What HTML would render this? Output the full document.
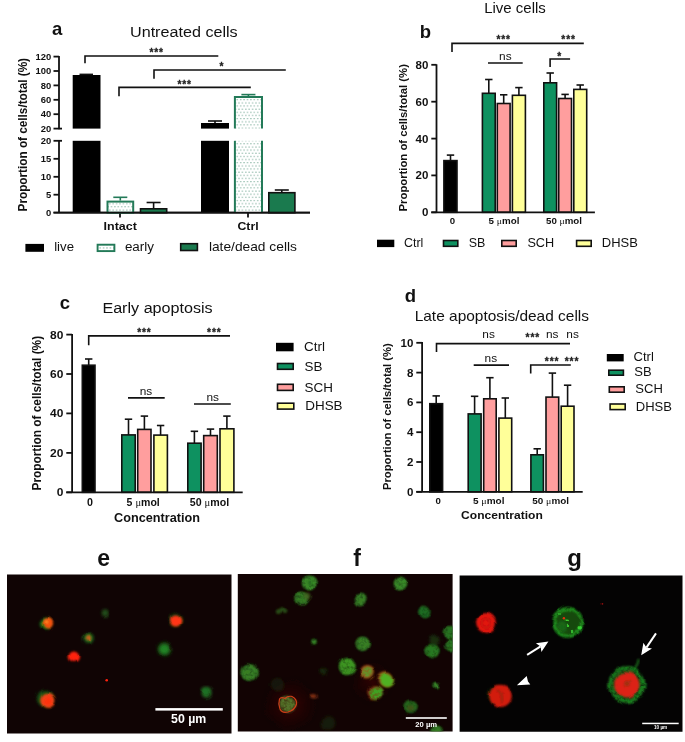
<!DOCTYPE html>
<html><head><meta charset="utf-8"><title>Figure</title>
<style>
html,body{margin:0;padding:0;background:#fff;}
body{width:685px;height:742px;overflow:hidden;}
svg{display:block;font-family:"Liberation Sans", sans-serif;}
</style></head><body>
<svg width="685" height="742" viewBox="0 0 685 742">
<defs>
<pattern id="dots" width="3.4" height="6.3" patternUnits="userSpaceOnUse" x="235.6" y="98.2"><rect width="3.4" height="6.3" fill="#fff"/><circle cx="1.7" cy="1.5" r="0.6" fill="#5c9a82"/><circle cx="0" cy="4.65" r="0.6" fill="#5c9a82"/><circle cx="3.4" cy="4.65" r="0.6" fill="#5c9a82"/></pattern>
<pattern id="dots2" width="3.4" height="3.4" patternUnits="userSpaceOnUse" x="98.5" y="246.2"><rect width="3.4" height="3.4" fill="#fff"/><circle cx="1.7" cy="1.7" r="0.6" fill="#5c9a82"/></pattern>
<filter id="b1" x="-30%" y="-30%" width="160%" height="160%"><feGaussianBlur stdDeviation="0.9"/></filter>
<filter id="b2" x="-40%" y="-40%" width="180%" height="180%"><feGaussianBlur stdDeviation="1.8"/></filter>
<filter id="b3" x="-60%" y="-60%" width="220%" height="220%"><feGaussianBlur stdDeviation="4"/></filter>
<filter id="tx" x="-30%" y="-30%" width="160%" height="160%"><feGaussianBlur stdDeviation="0.9" result="b"/><feTurbulence type="fractalNoise" baseFrequency="0.3" numOctaves="2" seed="7" result="n"/><feColorMatrix in="n" type="matrix" values="0 0 0 0 1  0 0 0 0 1  0 0 0 0 1  1.3 0 0 0 0.25" result="a"/><feComposite in="b" in2="a" operator="in"/></filter>
<filter id="wob" x="0" y="0" width="100%" height="100%" filterUnits="objectBoundingBox"><feTurbulence type="fractalNoise" baseFrequency="0.075" numOctaves="1" seed="11" result="t"/><feDisplacementMap in="SourceGraphic" in2="t" scale="4.5" xChannelSelector="R" yChannelSelector="G" result="d"/><feGaussianBlur in="d" stdDeviation="0.6"/></filter>
<radialGradient id="glow"><stop offset="0" stop-color="#5a0e0a" stop-opacity="0.55"/><stop offset="0.5" stop-color="#3a0806" stop-opacity="0.3"/><stop offset="1" stop-color="#200404" stop-opacity="0"/></radialGradient>
<filter id="wob2" x="0" y="0" width="100%" height="100%" filterUnits="objectBoundingBox"><feTurbulence type="fractalNoise" baseFrequency="0.11" numOctaves="1" seed="5" result="t"/><feDisplacementMap in="SourceGraphic" in2="t" scale="4" xChannelSelector="R" yChannelSelector="G" result="d"/><feGaussianBlur in="d" stdDeviation="0.4"/></filter>
<filter id="b0" x="-20%" y="-20%" width="140%" height="140%"><feGaussianBlur stdDeviation="0.45"/></filter>
<clipPath id="ce"><rect x="7" y="574.6" width="224.5" height="159"/></clipPath>
<clipPath id="cf"><rect x="237.8" y="574" width="214.8" height="157.5"/></clipPath>
<clipPath id="cg"><rect x="459.6" y="575.4" width="222.9" height="156.4"/></clipPath>
</defs>
<rect width="685" height="742" fill="#fff"/>
<text x="52" y="34.8" font-size="18.5" font-weight="bold" text-anchor="start" fill="#111">a</text>
<text x="130" y="36.8" font-size="15.2" font-weight="normal" text-anchor="start" fill="#111" textLength="107.7" lengthAdjust="spacingAndGlyphs">Untreated cells</text>
<line x1="59" y1="55.9" x2="59" y2="129.3" stroke="#111" stroke-width="1.8" stroke-linecap="butt"/>
<line x1="53.5" y1="56.6" x2="59" y2="56.6" stroke="#111" stroke-width="1.8" stroke-linecap="butt"/>
<text transform="translate(51.3,59.8) scale(1.06,1)" font-size="8.9" font-weight="bold" text-anchor="end" fill="#111">120</text>
<line x1="53.5" y1="71.0" x2="59" y2="71.0" stroke="#111" stroke-width="1.8" stroke-linecap="butt"/>
<text transform="translate(51.3,74.2) scale(1.06,1)" font-size="8.9" font-weight="bold" text-anchor="end" fill="#111">100</text>
<line x1="53.5" y1="85.4" x2="59" y2="85.4" stroke="#111" stroke-width="1.8" stroke-linecap="butt"/>
<text transform="translate(51.3,88.6) scale(1.06,1)" font-size="8.9" font-weight="bold" text-anchor="end" fill="#111">80</text>
<line x1="53.5" y1="99.8" x2="59" y2="99.8" stroke="#111" stroke-width="1.8" stroke-linecap="butt"/>
<text transform="translate(51.3,103.0) scale(1.06,1)" font-size="8.9" font-weight="bold" text-anchor="end" fill="#111">60</text>
<line x1="53.5" y1="114.2" x2="59" y2="114.2" stroke="#111" stroke-width="1.8" stroke-linecap="butt"/>
<text transform="translate(51.3,117.4) scale(1.06,1)" font-size="8.9" font-weight="bold" text-anchor="end" fill="#111">40</text>
<line x1="53.5" y1="128.6" x2="62" y2="128.6" stroke="#111" stroke-width="1.8" stroke-linecap="butt"/>
<text transform="translate(51.3,131.8) scale(1.06,1)" font-size="8.9" font-weight="bold" text-anchor="end" fill="#111">20</text>
<line x1="59" y1="140.1" x2="59" y2="212.7" stroke="#111" stroke-width="1.8" stroke-linecap="butt"/>
<line x1="53.5" y1="140.8" x2="62" y2="140.8" stroke="#111" stroke-width="1.8" stroke-linecap="butt"/>
<text transform="translate(51.3,144.0) scale(1.06,1)" font-size="8.9" font-weight="bold" text-anchor="end" fill="#111">20</text>
<line x1="53.5" y1="158.8" x2="59" y2="158.8" stroke="#111" stroke-width="1.8" stroke-linecap="butt"/>
<text transform="translate(51.3,162.0) scale(1.06,1)" font-size="8.9" font-weight="bold" text-anchor="end" fill="#111">15</text>
<line x1="53.5" y1="176.8" x2="59" y2="176.8" stroke="#111" stroke-width="1.8" stroke-linecap="butt"/>
<text transform="translate(51.3,180.0) scale(1.06,1)" font-size="8.9" font-weight="bold" text-anchor="end" fill="#111">10</text>
<line x1="53.5" y1="194.7" x2="59" y2="194.7" stroke="#111" stroke-width="1.8" stroke-linecap="butt"/>
<text transform="translate(51.3,197.9) scale(1.06,1)" font-size="8.9" font-weight="bold" text-anchor="end" fill="#111">5</text>
<text transform="translate(51.3,215.9) scale(1.06,1)" font-size="8.9" font-weight="bold" text-anchor="end" fill="#111">0</text>
<line x1="53.5" y1="212.7" x2="310" y2="212.7" stroke="#111" stroke-width="1.8" stroke-linecap="butt"/>
<line x1="120" y1="212.7" x2="120" y2="217.5" stroke="#111" stroke-width="1.8" stroke-linecap="butt"/>
<line x1="248" y1="212.7" x2="248" y2="217.5" stroke="#111" stroke-width="1.8" stroke-linecap="butt"/>
<text x="120.2" y="229.8" font-size="11.2" font-weight="bold" text-anchor="middle" fill="#111" textLength="33.3" lengthAdjust="spacingAndGlyphs">Intact</text>
<text transform="translate(248,229.8) scale(1.1,1)" font-size="11.2" font-weight="bold" text-anchor="middle" fill="#111">Ctrl</text>
<text transform="translate(27,211.4) rotate(-90)" font-size="12.1" font-weight="bold" fill="#111" textLength="153.4" lengthAdjust="spacingAndGlyphs">Proportion of cells/total (%)</text>
<rect x="72.7" y="75" width="27.8" height="53.6" fill="#000"/>
<rect x="72.7" y="140.8" width="27.8" height="71.9" fill="#000"/>
<line x1="79.5" y1="74.4" x2="93" y2="74.4" stroke="#111" stroke-width="1.6" stroke-linecap="butt"/>
<rect x="107.5" y="201.6" width="25.7" height="11.1" fill="url(#dots)" stroke="#237a58" stroke-width="2"/>
<line x1="120.3" y1="197.3" x2="120.3" y2="200.6" stroke="#237a58" stroke-width="1.6" stroke-linecap="butt"/>
<line x1="113.3" y1="197.3" x2="127.3" y2="197.3" stroke="#237a58" stroke-width="1.6" stroke-linecap="butt"/>
<rect x="140.5" y="208.8" width="26.2" height="3.9" fill="#1a7a4e" stroke="#111" stroke-width="1.6"/>
<line x1="153.6" y1="202.5" x2="153.6" y2="208" stroke="#111" stroke-width="1.6" stroke-linecap="butt"/>
<line x1="146.6" y1="202.5" x2="160.6" y2="202.5" stroke="#111" stroke-width="1.6" stroke-linecap="butt"/>
<rect x="201" y="123" width="28" height="5.6" fill="#000"/>
<rect x="201" y="140.8" width="28" height="71.9" fill="#000"/>
<line x1="215" y1="121" x2="215" y2="123" stroke="#111" stroke-width="1.6" stroke-linecap="butt"/>
<line x1="208" y1="121" x2="222" y2="121" stroke="#111" stroke-width="1.6" stroke-linecap="butt"/>
<rect x="234.9" y="97" width="27.1" height="31.6" fill="url(#dots)"/>
<rect x="234.9" y="140.8" width="27.1" height="71.9" fill="url(#dots)"/>
<polyline points="234.9,128.6 234.9,97 262,97 262,128.6" fill="none" stroke="#237a58" stroke-width="2"/>
<line x1="234.9" y1="140.8" x2="234.9" y2="212.7" stroke="#237a58" stroke-width="2" stroke-linecap="butt"/>
<line x1="262" y1="140.8" x2="262" y2="212.7" stroke="#237a58" stroke-width="2" stroke-linecap="butt"/>
<line x1="248.4" y1="94.6" x2="248.4" y2="97" stroke="#237a58" stroke-width="1.6" stroke-linecap="butt"/>
<line x1="241.4" y1="94.6" x2="255.4" y2="94.6" stroke="#237a58" stroke-width="1.6" stroke-linecap="butt"/>
<rect x="268.8" y="192.7" width="26.1" height="20.0" fill="#1a7a4e" stroke="#111" stroke-width="1.6"/>
<line x1="281.8" y1="190" x2="281.8" y2="192" stroke="#111" stroke-width="1.6" stroke-linecap="butt"/>
<line x1="274.8" y1="190" x2="288.8" y2="190" stroke="#111" stroke-width="1.6" stroke-linecap="butt"/>
<line x1="53.5" y1="212.7" x2="310" y2="212.7" stroke="#111" stroke-width="1.8" stroke-linecap="butt"/>
<polyline points="85,63.3 85,56 218.3,56" fill="none" stroke="#111" stroke-width="1.6"/>
<text x="156.7" y="56.3" font-size="10.2" font-weight="bold" text-anchor="middle" fill="#222" letter-spacing="0.85" stroke="#222" stroke-width="0.3">***</text>
<polyline points="154,78.7 154,70 285.8,70" fill="none" stroke="#111" stroke-width="1.6"/>
<text x="222" y="70.3" font-size="10.2" font-weight="bold" text-anchor="middle" fill="#222" letter-spacing="0.85" stroke="#222" stroke-width="0.3">*</text>
<polyline points="119,96.3 119,87.4 250.8,87.4" fill="none" stroke="#111" stroke-width="1.6"/>
<text x="184.7" y="88.0" font-size="10.2" font-weight="bold" text-anchor="middle" fill="#222" letter-spacing="0.85" stroke="#222" stroke-width="0.3">***</text>
<rect x="25.4" y="243.9" width="18.6" height="7.9" fill="#000"/>
<text x="54.2" y="251.3" font-size="12.5" font-weight="normal" text-anchor="start" fill="#111" textLength="19.8" lengthAdjust="spacingAndGlyphs">live</text>
<rect x="97.6" y="244.7" width="16.8" height="6.4" fill="url(#dots2)" stroke="#237a58" stroke-width="1.9"/>
<text x="124.9" y="251.3" font-size="12.5" font-weight="normal" text-anchor="start" fill="#111" textLength="29.1" lengthAdjust="spacingAndGlyphs">early</text>
<rect x="180.70000000000002" y="243.70000000000002" width="16.7" height="6.8" fill="#1a7a4e" stroke="#111" stroke-width="1.6"/>
<text x="208.9" y="251" font-size="12.8" font-weight="normal" text-anchor="start" fill="#111" textLength="88" lengthAdjust="spacingAndGlyphs">late/dead cells</text>
<text x="419.7" y="38" font-size="18.5" font-weight="bold" text-anchor="start" fill="#111">b</text>
<text x="484.2" y="12.9" font-size="14.2" font-weight="normal" text-anchor="start" fill="#111" textLength="61.6" lengthAdjust="spacingAndGlyphs">Live cells</text>
<line x1="436.5" y1="64.3" x2="436.5" y2="212.3" stroke="#111" stroke-width="1.8" stroke-linecap="butt"/>
<line x1="431.3" y1="212.3" x2="436.5" y2="212.3" stroke="#111" stroke-width="1.8" stroke-linecap="butt"/>
<text transform="translate(428.4,216.2) scale(1.06,1)" font-size="10.9" font-weight="bold" text-anchor="end" fill="#111">0</text>
<line x1="431.3" y1="175.4" x2="436.5" y2="175.4" stroke="#111" stroke-width="1.8" stroke-linecap="butt"/>
<text transform="translate(428.4,179.3) scale(1.06,1)" font-size="10.9" font-weight="bold" text-anchor="end" fill="#111">20</text>
<line x1="431.3" y1="138.6" x2="436.5" y2="138.6" stroke="#111" stroke-width="1.8" stroke-linecap="butt"/>
<text transform="translate(428.4,142.5) scale(1.06,1)" font-size="10.9" font-weight="bold" text-anchor="end" fill="#111">40</text>
<line x1="431.3" y1="101.7" x2="436.5" y2="101.7" stroke="#111" stroke-width="1.8" stroke-linecap="butt"/>
<text transform="translate(428.4,105.6) scale(1.06,1)" font-size="10.9" font-weight="bold" text-anchor="end" fill="#111">60</text>
<line x1="431.3" y1="64.8" x2="436.5" y2="64.8" stroke="#111" stroke-width="1.8" stroke-linecap="butt"/>
<text transform="translate(428.4,68.7) scale(1.06,1)" font-size="10.9" font-weight="bold" text-anchor="end" fill="#111">80</text>
<line x1="450.5" y1="155.1" x2="450.5" y2="160.8" stroke="#111" stroke-width="1.6" stroke-linecap="butt"/>
<line x1="446.8" y1="155.1" x2="454.2" y2="155.1" stroke="#111" stroke-width="1.6" stroke-linecap="butt"/>
<rect x="443.9" y="160.6" width="13.1" height="51.7" fill="#000" stroke="#111" stroke-width="1.6"/>
<line x1="488.8" y1="79.5" x2="488.8" y2="93.5" stroke="#111" stroke-width="1.6" stroke-linecap="butt"/>
<line x1="485.1" y1="79.5" x2="492.5" y2="79.5" stroke="#111" stroke-width="1.6" stroke-linecap="butt"/>
<rect x="482.4" y="93.3" width="12.8" height="119.0" fill="#0e9160" stroke="#111" stroke-width="1.6"/>
<line x1="503.7" y1="94.8" x2="503.7" y2="103.7" stroke="#111" stroke-width="1.6" stroke-linecap="butt"/>
<line x1="500.0" y1="94.8" x2="507.4" y2="94.8" stroke="#111" stroke-width="1.6" stroke-linecap="butt"/>
<rect x="497.3" y="103.5" width="12.8" height="108.8" fill="#ff9e9e" stroke="#111" stroke-width="1.6"/>
<line x1="518.9" y1="87.6" x2="518.9" y2="95.5" stroke="#111" stroke-width="1.6" stroke-linecap="butt"/>
<line x1="515.1999999999999" y1="87.6" x2="522.6" y2="87.6" stroke="#111" stroke-width="1.6" stroke-linecap="butt"/>
<rect x="512.4" y="95.3" width="13.0" height="117.0" fill="#ffff99" stroke="#111" stroke-width="1.6"/>
<line x1="550.2" y1="73.0" x2="550.2" y2="83.0" stroke="#111" stroke-width="1.6" stroke-linecap="butt"/>
<line x1="546.5" y1="73.0" x2="553.9000000000001" y2="73.0" stroke="#111" stroke-width="1.6" stroke-linecap="butt"/>
<rect x="543.8" y="82.8" width="12.8" height="129.5" fill="#0e9160" stroke="#111" stroke-width="1.6"/>
<line x1="565.1" y1="94.4" x2="565.1" y2="98.7" stroke="#111" stroke-width="1.6" stroke-linecap="butt"/>
<line x1="561.4" y1="94.4" x2="568.8000000000001" y2="94.4" stroke="#111" stroke-width="1.6" stroke-linecap="butt"/>
<rect x="558.7" y="98.5" width="12.8" height="113.8" fill="#ff9e9e" stroke="#111" stroke-width="1.6"/>
<line x1="580.2" y1="85.0" x2="580.2" y2="89.6" stroke="#111" stroke-width="1.6" stroke-linecap="butt"/>
<line x1="576.5" y1="85.0" x2="583.9000000000001" y2="85.0" stroke="#111" stroke-width="1.6" stroke-linecap="butt"/>
<rect x="573.8" y="89.4" width="12.9" height="122.9" fill="#ffff99" stroke="#111" stroke-width="1.6"/>
<line x1="431.3" y1="212.3" x2="594.9" y2="212.3" stroke="#111" stroke-width="1.8" stroke-linecap="butt"/>
<text transform="translate(452.4,224) scale(1.06,1)" font-size="9.1" font-weight="bold" text-anchor="middle" fill="#111">0</text>
<text x="504" y="224" font-size="9.1" font-weight="bold" text-anchor="middle" fill="#111" textLength="30.8" lengthAdjust="spacingAndGlyphs">5 <tspan font-weight="normal" font-family='"Liberation Serif", serif'>μ</tspan>mol</text>
<text x="564" y="224" font-size="9.1" font-weight="bold" text-anchor="middle" fill="#111" textLength="36" lengthAdjust="spacingAndGlyphs">50 <tspan font-weight="normal" font-family='"Liberation Serif", serif'>μ</tspan>mol</text>
<text transform="translate(407,211.4) rotate(-90)" font-size="11.8" font-weight="bold" fill="#111" textLength="147.3" lengthAdjust="spacingAndGlyphs">Proportion of cells/total (%)</text>
<polyline points="452,52.1 452,43.4 583.8,43.4" fill="none" stroke="#111" stroke-width="1.6"/>
<text x="503.7" y="43.0" font-size="10.2" font-weight="bold" text-anchor="middle" fill="#222" letter-spacing="0.85" stroke="#222" stroke-width="0.3">***</text>
<text x="568.6" y="43.1" font-size="10.2" font-weight="bold" text-anchor="middle" fill="#222" letter-spacing="0.85" stroke="#222" stroke-width="0.3">***</text>
<text transform="translate(505.3,60) scale(1.06,1)" font-size="11.2" font-weight="normal" text-anchor="middle" fill="#111">ns</text>
<line x1="488" y1="63" x2="522.7" y2="63" stroke="#111" stroke-width="1.6" stroke-linecap="butt"/>
<polyline points="550.1,67 550.1,59 570.1,59" fill="none" stroke="#111" stroke-width="1.6"/>
<text x="559.7" y="60.2" font-size="10.2" font-weight="bold" text-anchor="middle" fill="#222" letter-spacing="0.85" stroke="#222" stroke-width="0.3">*</text>
<rect x="377" y="239.7" width="17.3" height="7.4" fill="#000"/>
<text x="404" y="247.1" font-size="12.0" font-weight="normal" text-anchor="start" fill="#111" textLength="19.3" lengthAdjust="spacingAndGlyphs">Ctrl</text>
<rect x="443.5" y="240.5" width="14.3" height="5.8" fill="#0e9160" stroke="#111" stroke-width="1.6"/>
<text x="468.8" y="247.1" font-size="12.0" font-weight="normal" text-anchor="start" fill="#111" textLength="16.6" lengthAdjust="spacingAndGlyphs">SB</text>
<rect x="501.8" y="240.5" width="14.4" height="5.8" fill="#ff9e9e" stroke="#111" stroke-width="1.6"/>
<text x="527.4" y="247.1" font-size="12.0" font-weight="normal" text-anchor="start" fill="#111" textLength="26.8" lengthAdjust="spacingAndGlyphs">SCH</text>
<rect x="576.5999999999999" y="240.5" width="14.6" height="5.8" fill="#ffff99" stroke="#111" stroke-width="1.6"/>
<text x="601.8" y="247.1" font-size="12.0" font-weight="normal" text-anchor="start" fill="#111" textLength="36" lengthAdjust="spacingAndGlyphs">DHSB</text>
<text x="59.7" y="309" font-size="18.5" font-weight="bold" text-anchor="start" fill="#111">c</text>
<text x="102.4" y="312.8" font-size="15.2" font-weight="normal" text-anchor="start" fill="#111" textLength="110.3" lengthAdjust="spacingAndGlyphs">Early apoptosis</text>
<line x1="72.1" y1="333.9" x2="72.1" y2="492.3" stroke="#111" stroke-width="1.8" stroke-linecap="butt"/>
<line x1="66.3" y1="492.3" x2="72.1" y2="492.3" stroke="#111" stroke-width="1.8" stroke-linecap="butt"/>
<text transform="translate(63.4,496.3) scale(1.06,1)" font-size="11.3" font-weight="bold" text-anchor="end" fill="#111">0</text>
<line x1="66.3" y1="452.9" x2="72.1" y2="452.9" stroke="#111" stroke-width="1.8" stroke-linecap="butt"/>
<text transform="translate(63.4,456.9) scale(1.06,1)" font-size="11.3" font-weight="bold" text-anchor="end" fill="#111">20</text>
<line x1="66.3" y1="413.4" x2="72.1" y2="413.4" stroke="#111" stroke-width="1.8" stroke-linecap="butt"/>
<text transform="translate(63.4,417.4) scale(1.06,1)" font-size="11.3" font-weight="bold" text-anchor="end" fill="#111">40</text>
<line x1="66.3" y1="374.0" x2="72.1" y2="374.0" stroke="#111" stroke-width="1.8" stroke-linecap="butt"/>
<text transform="translate(63.4,378.0) scale(1.06,1)" font-size="11.3" font-weight="bold" text-anchor="end" fill="#111">60</text>
<line x1="66.3" y1="334.6" x2="72.1" y2="334.6" stroke="#111" stroke-width="1.8" stroke-linecap="butt"/>
<text transform="translate(63.4,338.6) scale(1.06,1)" font-size="11.3" font-weight="bold" text-anchor="end" fill="#111">80</text>
<line x1="88.7" y1="359" x2="88.7" y2="365.4" stroke="#111" stroke-width="1.6" stroke-linecap="butt"/>
<line x1="85.0" y1="359" x2="92.4" y2="359" stroke="#111" stroke-width="1.6" stroke-linecap="butt"/>
<rect x="82.3" y="365.2" width="12.7" height="127.1" fill="#000" stroke="#111" stroke-width="1.6"/>
<line x1="128.5" y1="419.2" x2="128.5" y2="435.1" stroke="#111" stroke-width="1.6" stroke-linecap="butt"/>
<line x1="124.8" y1="419.2" x2="132.2" y2="419.2" stroke="#111" stroke-width="1.6" stroke-linecap="butt"/>
<rect x="121.8" y="434.9" width="13.4" height="57.4" fill="#0e9160" stroke="#111" stroke-width="1.6"/>
<line x1="144.4" y1="416.1" x2="144.4" y2="429.6" stroke="#111" stroke-width="1.6" stroke-linecap="butt"/>
<line x1="140.70000000000002" y1="416.1" x2="148.1" y2="416.1" stroke="#111" stroke-width="1.6" stroke-linecap="butt"/>
<rect x="137.7" y="429.4" width="13.3" height="62.9" fill="#ff9e9e" stroke="#111" stroke-width="1.6"/>
<line x1="160.6" y1="425.5" x2="160.6" y2="435.3" stroke="#111" stroke-width="1.6" stroke-linecap="butt"/>
<line x1="156.9" y1="425.5" x2="164.29999999999998" y2="425.5" stroke="#111" stroke-width="1.6" stroke-linecap="butt"/>
<rect x="153.9" y="435.1" width="13.5" height="57.2" fill="#ffff99" stroke="#111" stroke-width="1.6"/>
<line x1="194.4" y1="431.3" x2="194.4" y2="443.4" stroke="#111" stroke-width="1.6" stroke-linecap="butt"/>
<line x1="190.70000000000002" y1="431.3" x2="198.1" y2="431.3" stroke="#111" stroke-width="1.6" stroke-linecap="butt"/>
<rect x="187.8" y="443.2" width="13.3" height="49.1" fill="#0e9160" stroke="#111" stroke-width="1.6"/>
<line x1="210.5" y1="429.1" x2="210.5" y2="435.8" stroke="#111" stroke-width="1.6" stroke-linecap="butt"/>
<line x1="206.8" y1="429.1" x2="214.2" y2="429.1" stroke="#111" stroke-width="1.6" stroke-linecap="butt"/>
<rect x="203.7" y="435.6" width="13.6" height="56.7" fill="#ff9e9e" stroke="#111" stroke-width="1.6"/>
<line x1="226.9" y1="416.1" x2="226.9" y2="429" stroke="#111" stroke-width="1.6" stroke-linecap="butt"/>
<line x1="223.20000000000002" y1="416.1" x2="230.6" y2="416.1" stroke="#111" stroke-width="1.6" stroke-linecap="butt"/>
<rect x="220.0" y="428.8" width="13.9" height="63.5" fill="#ffff99" stroke="#111" stroke-width="1.6"/>
<line x1="66.3" y1="492.3" x2="242.7" y2="492.3" stroke="#111" stroke-width="1.8" stroke-linecap="butt"/>
<text transform="translate(90,505.6) scale(1.06,1)" font-size="10.1" font-weight="bold" text-anchor="middle" fill="#111">0</text>
<text x="143.2" y="505.6" font-size="10.1" font-weight="bold" text-anchor="middle" fill="#111" textLength="33.2" lengthAdjust="spacingAndGlyphs">5 <tspan font-weight="normal" font-family='"Liberation Serif", serif'>μ</tspan>mol</text>
<text x="209.5" y="505.6" font-size="10.1" font-weight="bold" text-anchor="middle" fill="#111" textLength="39.4" lengthAdjust="spacingAndGlyphs">50 <tspan font-weight="normal" font-family='"Liberation Serif", serif'>μ</tspan>mol</text>
<text x="114" y="522.1" font-size="11.9" font-weight="bold" text-anchor="start" fill="#111" textLength="86" lengthAdjust="spacingAndGlyphs">Concentration</text>
<text transform="translate(41.2,490.5) rotate(-90)" font-size="12.1" font-weight="bold" fill="#111" textLength="154.6" lengthAdjust="spacingAndGlyphs">Proportion of cells/total (%)</text>
<polyline points="88.7,345.3 88.7,335.9 230,335.9" fill="none" stroke="#111" stroke-width="1.6"/>
<text x="144.4" y="335.7" font-size="10.2" font-weight="bold" text-anchor="middle" fill="#222" letter-spacing="0.85" stroke="#222" stroke-width="0.3">***</text>
<text x="214.3" y="336.2" font-size="10.2" font-weight="bold" text-anchor="middle" fill="#222" letter-spacing="0.85" stroke="#222" stroke-width="0.3">***</text>
<text transform="translate(146,395) scale(1.06,1)" font-size="11.2" font-weight="normal" text-anchor="middle" fill="#111">ns</text>
<line x1="128" y1="397.9" x2="164.7" y2="397.9" stroke="#111" stroke-width="1.6" stroke-linecap="butt"/>
<text transform="translate(212.7,401) scale(1.06,1)" font-size="11.2" font-weight="normal" text-anchor="middle" fill="#111">ns</text>
<line x1="194" y1="404" x2="230.8" y2="404" stroke="#111" stroke-width="1.6" stroke-linecap="butt"/>
<rect x="276" y="342.8" width="17.6" height="8.5" fill="#000"/>
<text transform="translate(304,351.3) scale(1.06,1)" font-size="12.7" font-weight="normal" text-anchor="start" fill="#111">Ctrl</text>
<rect x="277.5" y="363.5" width="15.7" height="5.8" fill="#0e9160" stroke="#111" stroke-width="1.6"/>
<text transform="translate(304.5,370.6) scale(1.06,1)" font-size="12.7" font-weight="normal" text-anchor="start" fill="#111">SB</text>
<rect x="277.5" y="384.3" width="15.7" height="6.1" fill="#ff9e9e" stroke="#111" stroke-width="1.6"/>
<text transform="translate(304.5,391.7) scale(1.06,1)" font-size="12.7" font-weight="normal" text-anchor="start" fill="#111">SCH</text>
<rect x="277.5" y="403.2" width="16.3" height="5.9" fill="#ffff99" stroke="#111" stroke-width="1.6"/>
<text transform="translate(305.2,409.9) scale(1.06,1)" font-size="12.7" font-weight="normal" text-anchor="start" fill="#111">DHSB</text>
<text x="404.7" y="301.9" font-size="18.5" font-weight="bold" text-anchor="start" fill="#111">d</text>
<text x="414.7" y="320.5" font-size="14.6" font-weight="normal" text-anchor="start" fill="#111" textLength="174.3" lengthAdjust="spacingAndGlyphs">Late apoptosis/dead cells</text>
<line x1="422.1" y1="342.1" x2="422.1" y2="491.8" stroke="#111" stroke-width="1.8" stroke-linecap="butt"/>
<line x1="416.3" y1="491.8" x2="422.1" y2="491.8" stroke="#111" stroke-width="1.8" stroke-linecap="butt"/>
<text transform="translate(413.4,495.7) scale(1.06,1)" font-size="10.9" font-weight="bold" text-anchor="end" fill="#111">0</text>
<line x1="416.3" y1="462.0" x2="422.1" y2="462.0" stroke="#111" stroke-width="1.8" stroke-linecap="butt"/>
<text transform="translate(413.4,465.9) scale(1.06,1)" font-size="10.9" font-weight="bold" text-anchor="end" fill="#111">2</text>
<line x1="416.3" y1="432.2" x2="422.1" y2="432.2" stroke="#111" stroke-width="1.8" stroke-linecap="butt"/>
<text transform="translate(413.4,436.1) scale(1.06,1)" font-size="10.9" font-weight="bold" text-anchor="end" fill="#111">4</text>
<line x1="416.3" y1="402.4" x2="422.1" y2="402.4" stroke="#111" stroke-width="1.8" stroke-linecap="butt"/>
<text transform="translate(413.4,406.3) scale(1.06,1)" font-size="10.9" font-weight="bold" text-anchor="end" fill="#111">6</text>
<line x1="416.3" y1="372.6" x2="422.1" y2="372.6" stroke="#111" stroke-width="1.8" stroke-linecap="butt"/>
<text transform="translate(413.4,376.5) scale(1.06,1)" font-size="10.9" font-weight="bold" text-anchor="end" fill="#111">8</text>
<line x1="416.3" y1="342.8" x2="422.1" y2="342.8" stroke="#111" stroke-width="1.8" stroke-linecap="butt"/>
<text transform="translate(413.4,346.7) scale(1.06,1)" font-size="10.9" font-weight="bold" text-anchor="end" fill="#111">10</text>
<line x1="436.2" y1="395.9" x2="436.2" y2="403.9" stroke="#111" stroke-width="1.6" stroke-linecap="butt"/>
<line x1="432.5" y1="395.9" x2="439.9" y2="395.9" stroke="#111" stroke-width="1.6" stroke-linecap="butt"/>
<rect x="429.8" y="403.7" width="12.8" height="88.1" fill="#000" stroke="#111" stroke-width="1.6"/>
<line x1="474.6" y1="396.3" x2="474.6" y2="414.1" stroke="#111" stroke-width="1.6" stroke-linecap="butt"/>
<line x1="470.90000000000003" y1="396.3" x2="478.3" y2="396.3" stroke="#111" stroke-width="1.6" stroke-linecap="butt"/>
<rect x="468.2" y="413.9" width="12.9" height="77.9" fill="#0e9160" stroke="#111" stroke-width="1.6"/>
<line x1="489.9" y1="377.7" x2="489.9" y2="399" stroke="#111" stroke-width="1.6" stroke-linecap="butt"/>
<line x1="486.2" y1="377.7" x2="493.59999999999997" y2="377.7" stroke="#111" stroke-width="1.6" stroke-linecap="butt"/>
<rect x="483.7" y="398.8" width="12.5" height="93.0" fill="#ff9e9e" stroke="#111" stroke-width="1.6"/>
<line x1="505.3" y1="398" x2="505.3" y2="418.3" stroke="#111" stroke-width="1.6" stroke-linecap="butt"/>
<line x1="501.6" y1="398" x2="509.0" y2="398" stroke="#111" stroke-width="1.6" stroke-linecap="butt"/>
<rect x="498.9" y="418.1" width="12.8" height="73.7" fill="#ffff99" stroke="#111" stroke-width="1.6"/>
<line x1="537.2" y1="448.8" x2="537.2" y2="455" stroke="#111" stroke-width="1.6" stroke-linecap="butt"/>
<line x1="533.5" y1="448.8" x2="540.9000000000001" y2="448.8" stroke="#111" stroke-width="1.6" stroke-linecap="butt"/>
<rect x="530.9" y="454.8" width="12.5" height="37.0" fill="#0e9160" stroke="#111" stroke-width="1.6"/>
<line x1="552.4" y1="373.1" x2="552.4" y2="397.3" stroke="#111" stroke-width="1.6" stroke-linecap="butt"/>
<line x1="548.6999999999999" y1="373.1" x2="556.1" y2="373.1" stroke="#111" stroke-width="1.6" stroke-linecap="butt"/>
<rect x="546.0" y="397.1" width="12.7" height="94.7" fill="#ff9e9e" stroke="#111" stroke-width="1.6"/>
<line x1="567.6" y1="385.2" x2="567.6" y2="406.4" stroke="#111" stroke-width="1.6" stroke-linecap="butt"/>
<line x1="563.9" y1="385.2" x2="571.3000000000001" y2="385.2" stroke="#111" stroke-width="1.6" stroke-linecap="butt"/>
<rect x="561.2" y="406.2" width="12.8" height="85.6" fill="#ffff99" stroke="#111" stroke-width="1.6"/>
<line x1="416.3" y1="491.8" x2="582.7" y2="491.8" stroke="#111" stroke-width="1.8" stroke-linecap="butt"/>
<text transform="translate(438.2,504.2) scale(1.06,1)" font-size="9.1" font-weight="bold" text-anchor="middle" fill="#111">0</text>
<text x="488.7" y="504.2" font-size="9.1" font-weight="bold" text-anchor="middle" fill="#111" textLength="31.5" lengthAdjust="spacingAndGlyphs">5 <tspan font-weight="normal" font-family='"Liberation Serif", serif'>μ</tspan>mol</text>
<text x="550.7" y="504.2" font-size="9.1" font-weight="bold" text-anchor="middle" fill="#111" textLength="36.7" lengthAdjust="spacingAndGlyphs">50 <tspan font-weight="normal" font-family='"Liberation Serif", serif'>μ</tspan>mol</text>
<text x="461.1" y="519.2" font-size="11.4" font-weight="bold" text-anchor="start" fill="#111" textLength="81.7" lengthAdjust="spacingAndGlyphs">Concentration</text>
<text transform="translate(391.2,490) rotate(-90)" font-size="11.8" font-weight="bold" fill="#111" textLength="146.7" lengthAdjust="spacingAndGlyphs">Proportion of cells/total (%)</text>
<polyline points="436.5,352 436.5,343.6 570,343.6" fill="none" stroke="#111" stroke-width="1.6"/>
<text transform="translate(488.6,337.9) scale(1.06,1)" font-size="11.2" font-weight="normal" text-anchor="middle" fill="#111">ns</text>
<text x="532.8" y="340.7" font-size="10.2" font-weight="bold" text-anchor="middle" fill="#222" letter-spacing="0.85" stroke="#222" stroke-width="0.3">***</text>
<text transform="translate(552.2,337.9) scale(1.06,1)" font-size="11.2" font-weight="normal" text-anchor="middle" fill="#111">ns</text>
<text transform="translate(572.6,337.9) scale(1.06,1)" font-size="11.2" font-weight="normal" text-anchor="middle" fill="#111">ns</text>
<text transform="translate(490.8,362.4) scale(1.06,1)" font-size="11.2" font-weight="normal" text-anchor="middle" fill="#111">ns</text>
<line x1="473.7" y1="365.1" x2="509" y2="365.1" stroke="#111" stroke-width="1.6" stroke-linecap="butt"/>
<polyline points="530.7,373.4 530.7,365 570.8,365" fill="none" stroke="#111" stroke-width="1.6"/>
<text x="552.1" y="364.7" font-size="10.2" font-weight="bold" text-anchor="middle" fill="#222" letter-spacing="0.85" stroke="#222" stroke-width="0.3">***</text>
<text x="572.0" y="364.7" font-size="10.2" font-weight="bold" text-anchor="middle" fill="#222" letter-spacing="0.85" stroke="#222" stroke-width="0.3">***</text>
<rect x="606.8" y="354" width="16.9" height="7.4" fill="#000"/>
<text transform="translate(633.6,361.4) scale(1.06,1)" font-size="12.3" font-weight="normal" text-anchor="start" fill="#111">Ctrl</text>
<rect x="608.8" y="370.2" width="14.6" height="5.0" fill="#0e9160" stroke="#111" stroke-width="1.6"/>
<text transform="translate(634.3,376) scale(1.06,1)" font-size="12.3" font-weight="normal" text-anchor="start" fill="#111">SB</text>
<rect x="609.3" y="386.8" width="14.9" height="5.4" fill="#ff9e9e" stroke="#111" stroke-width="1.6"/>
<text transform="translate(635.3,393.4) scale(1.06,1)" font-size="12.3" font-weight="normal" text-anchor="start" fill="#111">SCH</text>
<rect x="610.0999999999999" y="404.0" width="15.1" height="5.6" fill="#ffff99" stroke="#111" stroke-width="1.6"/>
<text transform="translate(635.8,410.6) scale(1.06,1)" font-size="12.3" font-weight="normal" text-anchor="start" fill="#111">DHSB</text>
<text x="97.2" y="565.6" font-size="23" font-weight="bold" text-anchor="start" fill="#111">e</text>
<g clip-path="url(#ce)">
<rect x="0" y="570" width="240" height="170" fill="#100404"/>
<g filter="url(#wob)"><rect x="7" y="574.6" width="224.5" height="159" fill="#100404" opacity="0.01"/>
<circle cx="45.5" cy="623.5" r="5.5" fill="#1fa01f" opacity="0.8" filter="url(#b2)"/>
<circle cx="47.8" cy="623.3" r="5.3" fill="#f5500f" opacity="1" filter="url(#b1)"/>
<circle cx="46.6" cy="622" r="1.8" fill="#ffb030" opacity="0.7" filter="url(#b1)"/>
<circle cx="88" cy="638.3" r="5.6" fill="#1f8a20" opacity="0.75" filter="url(#b2)"/>
<circle cx="88" cy="638.3" r="3.2" fill="#c8601e" opacity="0.95" filter="url(#b1)"/>
<circle cx="73.9" cy="656.7" r="5.2" fill="#ff2410" opacity="1" filter="url(#b1)"/>
<circle cx="45.5" cy="698.5" r="8.5" fill="#1f8a20" opacity="0.6" filter="url(#b2)"/>
<circle cx="47.8" cy="700.3" r="7.6" fill="#f04212" opacity="1" filter="url(#b1)"/>
<circle cx="48.5" cy="701" r="4" fill="#ff3010" opacity="0.9" filter="url(#b1)"/>
<circle cx="175.3" cy="620.2" r="6.8" fill="#1a6a1a" opacity="0.5" filter="url(#b2)"/>
<circle cx="175.7" cy="621" r="5.6" fill="#ff3412" opacity="1" filter="url(#b1)"/>
<circle cx="105.2" cy="612.9" r="3.6" fill="#2a6a22" opacity="0.7" filter="url(#b2)"/>
<circle cx="164.5" cy="649.1" r="7.5" fill="#1a5a18" opacity="0.6" filter="url(#b2)"/>
<circle cx="164.3" cy="649.3" r="5" fill="#23902a" opacity="0.85" filter="url(#b2)"/>
<circle cx="206.6" cy="692.7" r="5" fill="#23822a" opacity="0.85" filter="url(#b2)"/>
<circle cx="106.7" cy="680.2" r="1.3" fill="#ff2010" opacity="1" filter="url(#b0)"/>
</g>
<rect x="155.4" y="708.1" width="67.4" height="2.5" fill="#fff"/>
<text x="188.7" y="723.4" font-size="12.2" font-weight="bold" text-anchor="middle" fill="#fff" textLength="35.2" lengthAdjust="spacingAndGlyphs">50 µm</text>
</g>
<text x="353.3" y="565.6" font-size="23" font-weight="bold" text-anchor="start" fill="#111">f</text>
<g clip-path="url(#cf)">
<rect x="230" y="570" width="230" height="170" fill="#120303"/>
<g filter="url(#wob)"><rect x="237.8" y="574" width="214.8" height="157.5" fill="#120303" opacity="0.01"/>
<circle cx="290" cy="705" r="30" fill="url(#glow)"/>
<circle cx="372" cy="682" r="24" fill="url(#glow)" opacity="0.7"/>
<circle cx="309.3" cy="583" r="7.2" fill="#173f12" opacity="0.8" filter="url(#b1)"/>
<circle cx="309.3" cy="583" r="7.2" fill="#3c922a" opacity="0.9" filter="url(#tx)"/>
<circle cx="309.8" cy="582.5" r="2" fill="#1a5a18" opacity="0.6" filter="url(#b1)"/>
<circle cx="301.3" cy="598.5" r="6.8" fill="#173f12" opacity="0.8" filter="url(#b1)"/>
<circle cx="301.3" cy="598.5" r="6.8" fill="#3a8628" opacity="0.85" filter="url(#tx)"/>
<circle cx="307" cy="596" r="3.5" fill="#4a6a20" opacity="0.7" filter="url(#b1)"/>
<circle cx="278.5" cy="611.5" r="2.6" fill="#3a8628" opacity="0.55" filter="url(#b1)"/>
<circle cx="282" cy="609.6" r="2.4" fill="#3a8628" opacity="0.55" filter="url(#b1)"/>
<circle cx="285" cy="611.8" r="2.4" fill="#3a8628" opacity="0.55" filter="url(#b1)"/>
<circle cx="314" cy="641.7" r="2.6" fill="#173f12" opacity="0.8" filter="url(#b1)"/>
<circle cx="314" cy="641.7" r="2.6" fill="#3c922a" opacity="0.85" filter="url(#tx)"/>
<circle cx="249.1" cy="672.3" r="8.4" fill="#173f12" opacity="0.8" filter="url(#b1)"/>
<circle cx="249.1" cy="672.3" r="8.4" fill="#3a8628" opacity="0.9" filter="url(#tx)"/>
<circle cx="347.3" cy="666.6" r="8.3" fill="#173f12" opacity="0.8" filter="url(#b1)"/>
<circle cx="347.3" cy="666.6" r="8.3" fill="#3f9a22" opacity="0.95" filter="url(#tx)"/>
<circle cx="287.8" cy="704.2" r="8.2" fill="#56782a" opacity="0.95" filter="url(#tx)"/>
<ellipse cx="314" cy="696.3" rx="3.6" ry="2.2" fill="#a8401a" opacity="0.7" filter="url(#b1)"/>
<circle cx="277.4" cy="684.6" r="7" fill="#1d3a12" opacity="0.35" filter="url(#b2)"/>
<circle cx="328.5" cy="723" r="7" fill="#1d4a14" opacity="0.35" filter="url(#b2)"/>
<circle cx="323" cy="671.5" r="3.5" fill="#1d4a14" opacity="0.5" filter="url(#b2)"/>
<circle cx="400.4" cy="583.6" r="6.6" fill="#173f12" opacity="0.8" filter="url(#b1)"/>
<circle cx="400.4" cy="583.6" r="6.6" fill="#3c922a" opacity="0.9" filter="url(#tx)"/>
<circle cx="360.7" cy="599.5" r="6.6" fill="#173f12" opacity="0.8" filter="url(#b1)"/>
<circle cx="360.7" cy="599.5" r="6.6" fill="#3a8628" opacity="0.9" filter="url(#tx)"/>
<circle cx="424.3" cy="611.9" r="6" fill="#173f12" opacity="0.8" filter="url(#b1)"/>
<circle cx="424.3" cy="611.9" r="6" fill="#1f7020" opacity="0.9" filter="url(#tx)"/>
<circle cx="362.6" cy="643.8" r="7" fill="#173f12" opacity="0.8" filter="url(#b1)"/>
<circle cx="362.6" cy="643.8" r="7" fill="#3a8628" opacity="0.9" filter="url(#tx)"/>
<circle cx="432" cy="650.6" r="7.4" fill="#173f12" opacity="0.8" filter="url(#b1)"/>
<circle cx="432" cy="650.6" r="7.4" fill="#2a8020" opacity="0.9" filter="url(#tx)"/>
<circle cx="434.5" cy="640" r="5" fill="#1f4a18" opacity="0.6" filter="url(#b2)"/>
<circle cx="450.5" cy="632.5" r="6.5" fill="#173f12" opacity="0.8" filter="url(#b1)"/>
<circle cx="450.5" cy="632.5" r="6.5" fill="#2a7a20" opacity="0.9" filter="url(#tx)"/>
<circle cx="451" cy="645.5" r="6.5" fill="#173f12" opacity="0.8" filter="url(#b1)"/>
<circle cx="451" cy="645.5" r="6.5" fill="#2a7a20" opacity="0.9" filter="url(#tx)"/>
<circle cx="367.4" cy="672.2" r="7.2" fill="#c8521a" opacity="0.8" filter="url(#b1)"/>
<circle cx="367.7" cy="672.5" r="5.9" fill="#5f982a" opacity="0.95" filter="url(#tx)"/>
<circle cx="385.8" cy="679.2" r="7.9" fill="#d06a1a" opacity="0.7" filter="url(#b1)"/>
<circle cx="386.5" cy="680" r="7.2" fill="#50b020" opacity="1" filter="url(#b1)"/>
<circle cx="374.8" cy="692.7" r="7.4" fill="#b03a14" opacity="0.7" filter="url(#b1)"/>
<circle cx="376" cy="693" r="6.7" fill="#3fa024" opacity="1" filter="url(#tx)"/>
<circle cx="436.6" cy="686.1" r="2.8" fill="#173f12" opacity="0.8" filter="url(#b1)"/>
<circle cx="436.6" cy="686.1" r="2.8" fill="#3c922a" opacity="0.9" filter="url(#tx)"/>
<circle cx="411.1" cy="706.3" r="6.4" fill="#173f12" opacity="0.8" filter="url(#b1)"/>
<circle cx="411.1" cy="706.3" r="6.4" fill="#266a1e" opacity="0.9" filter="url(#tx)"/>
<circle cx="411" cy="708" r="3" fill="#5a4a18" opacity="0.5" filter="url(#b1)"/>
<circle cx="436.6" cy="731.5" r="6" fill="#173f12" opacity="0.8" filter="url(#b1)"/>
<circle cx="436.6" cy="731.5" r="6" fill="#3a8628" opacity="0.85" filter="url(#tx)"/>
</g>
<path d="M279.5,699 Q281,696.5 285,698.5 Q288,695.5 292,696.5 Q297,699 296.5,704 Q295,710 288,712 Q282,713.5 280,709 Q278,704 279.5,699Z" fill="none" stroke="#d8401a" stroke-width="1.2" opacity="0.95" filter="url(#b0)"/>
<rect x="405.8" y="717.2" width="41" height="1.6" fill="#fff"/>
<text x="426.2" y="727.3" font-size="7.6" font-weight="bold" text-anchor="middle" fill="#fff" textLength="21.7" lengthAdjust="spacingAndGlyphs">20 µm</text>
</g>
<text x="567.2" y="565.5" font-size="24" font-weight="bold" text-anchor="start" fill="#111">g</text>
<g clip-path="url(#cg)">
<rect x="455" y="570" width="230" height="170" fill="#040303"/>
<g filter="url(#wob2)"><rect x="459.6" y="575.4" width="223.1" height="156.8" fill="#040303" opacity="0.01"/>
<circle cx="486" cy="622.9" r="10" fill="#e2160f" opacity="1" filter="url(#b1)"/>
<circle cx="486" cy="622.9" r="4.5" fill="none" stroke="#a80e0a" stroke-width="2" opacity="0.6" filter="url(#b1)"/>
<circle cx="497" cy="695" r="9" fill="#1a4a14" opacity="0.5" filter="url(#b2)"/>
<circle cx="500.5" cy="695.9" r="11.2" fill="#d21b10" opacity="1" filter="url(#b1)"/>
<path d="M497,690 Q503,694 502,702" fill="none" stroke="#7a2a0c" stroke-width="1.8" opacity="0.7" filter="url(#b1)"/>
<circle cx="567.9" cy="622.4" r="15" fill="#124a0e" opacity="1" filter="url(#b1)"/>
<circle cx="567.9" cy="622.4" r="13.8" fill="none" stroke="#22a022" stroke-width="2.8" opacity="0.95" filter="url(#tx)"/>
<circle cx="562" cy="627" r="5" fill="#1f7a1c" opacity="0.6" filter="url(#b2)"/>
<ellipse cx="566.5" cy="620.5" rx="2.6" ry="1.1" fill="#3fd030" opacity="0.95" filter="url(#b0)"/>
<circle cx="568" cy="626" r="1.2" fill="#3fd030" opacity="0.9" filter="url(#b0)"/>
<circle cx="563.9" cy="618.2" r="1.2" fill="#e03010" opacity="1" filter="url(#b0)"/>
<circle cx="580.2" cy="627.7" r="1.7" fill="#35d030" opacity="1" filter="url(#b0)"/>
<circle cx="572" cy="632" r="1.3" fill="#35c030" opacity="0.9" filter="url(#b0)"/>
<circle cx="560" cy="614" r="1.1" fill="#35c030" opacity="0.8" filter="url(#b0)"/>
<circle cx="626.8" cy="684.6" r="18.6" fill="#1f8a20" opacity="0.95" filter="url(#tx)"/>
<circle cx="626.2" cy="684.2" r="15.5" fill="#0a2a08" opacity="0.35" filter="url(#b1)"/>
<path d="M634,669 Q638,665 638.6,659" fill="none" stroke="#1f8a20" stroke-width="2" opacity="0.8" filter="url(#b1)"/>
<circle cx="626.8" cy="684.8" r="12.6" fill="#dc2014" opacity="1" filter="url(#b1)"/>
<circle cx="627" cy="683.5" r="3" fill="#7a3a10" opacity="0.6" filter="url(#b1)"/>
<circle cx="602.4" cy="603.8" r="0.9" fill="#a01010" opacity="0.9" filter="url(#b0)"/>
</g>
<line x1="527.1" y1="654.8" x2="540.6" y2="646.4" stroke="#fff" stroke-width="2.0"/>
<polygon points="548.4,641.6 541.4,652.1 540.6,646.4 535.9,643.2" fill="#fff"/>
<line x1="656.0" y1="633.4" x2="646.4" y2="647.6" stroke="#fff" stroke-width="2.0"/>
<polygon points="641.2,655.2 643.4,642.8 646.4,647.6 652.0,648.6" fill="#fff"/>
<polygon points="516.9,685.2 526.7,676 528,681.5 530.3,684.6" fill="#fff"/>
<rect x="642.2" y="722.7" width="36.5" height="1.5" fill="#fff"/>
<text x="660.6" y="728.8" font-size="4.6" font-weight="bold" text-anchor="middle" fill="#fff">10 µm</text>
</g>
</svg>
</body></html>
